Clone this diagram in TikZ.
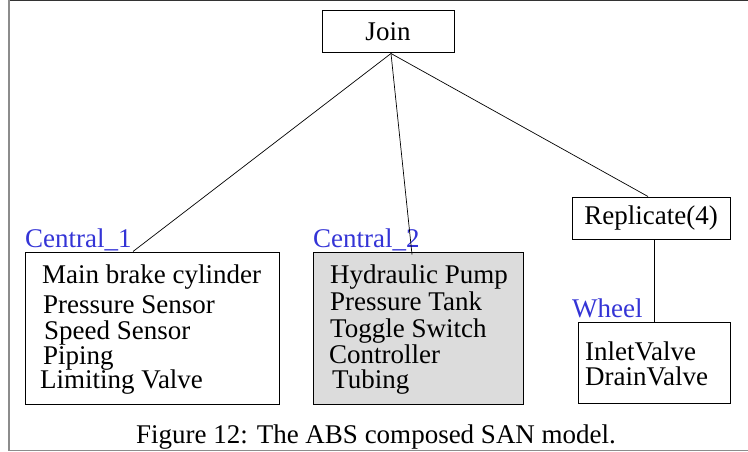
\documentclass[tikz,border=0pt]{standalone}
\usepackage{fontspec}
\setmainfont{Liberation Serif}
\usetikzlibrary{positioning}
\definecolor{labelblue}{RGB}{52,52,214}
\definecolor{boxgray}{RGB}{220,220,220}
\definecolor{framegray}{RGB}{140,140,140}

\begin{document}
\begin{tikzpicture}[
x=1pt, y=-1pt,
every node/.style={font=\fontsize{27pt}{32pt}\selectfont},
sanbox/.style={draw, line width=1pt, inner sep=0pt},
item/.style={anchor=base west, inner sep=0pt},
sublabel/.style={anchor=base west, inner sep=0pt, text=labelblue},
link/.style={line width=0.7pt}
]
\useasboundingbox (0,0) rectangle (748,452);
% frame
\draw[line width=1pt, black!80] (8,0.5) -- (748,0.5);
\draw[line width=2pt, framegray] (8.5,0) -- (8.5,451);
\draw[line width=1.5pt, framegray] (8,450.5) -- (748,450.5);

\node[sanbox, minimum width=132pt, minimum height=42pt] (join) at (388,32) {Join};
\node[sanbox, minimum width=254pt, minimum height=152pt] (c1) at (152,328) {};
\node[sanbox, fill=boxgray, minimum width=210pt, minimum height=152pt] (c2) at (418,328) {};
\node[sanbox, minimum width=158pt, minimum height=42pt] (rep) at (651,218) {Replicate(4)};
\node[sanbox, minimum width=152pt, minimum height=81pt] (wheel) at (654,362.5) {};

\node[sublabel] (c1lab) at (25,247) {Central\_1};
\node[sublabel] (c2lab) at (313,247) {Central\_2};
\node[sublabel] (wheellab) at (572,317) {Wheel};

% submodel contents
\foreach \px/\py/\t [count=\i] in {42/283/Main brake cylinder, 43/313/Pressure Sensor,
  44/339/Speed Sensor, 43/364/Piping, 40/388/Limiting Valve}
  \node[item] (c1i\i) at (\px,\py) {\t};
\foreach \px/\py/\t [count=\i] in {330/283/Hydraulic Pump, 330/310/Pressure Tank,
  330/337/Toggle Switch, 329/363/Controller, 332/388/Tubing}
  \node[item] (c2i\i) at (\px,\py) {\t};
\node[item] (w1) at (585,360) {InletValve};
\node[item] (w2) at (585,385) {DrainValve};

\draw[link] ([xshift=3pt]join.south) -- ([xshift=-19pt]c1.north);
\draw[link] ([xshift=3pt]join.south) -- ([xshift=-6pt, yshift=-3pt]c2.north);
\draw[link] ([xshift=3pt]join.south) -- ([xshift=-3pt]rep.north);
\draw[line width=1pt] (rep.south -| wheel.north) -- (wheel.north);

\node[anchor=base, inner sep=0pt] (caption) at (376,443) {Figure 12: The ABS composed SAN model.};
\end{tikzpicture}
\end{document}
